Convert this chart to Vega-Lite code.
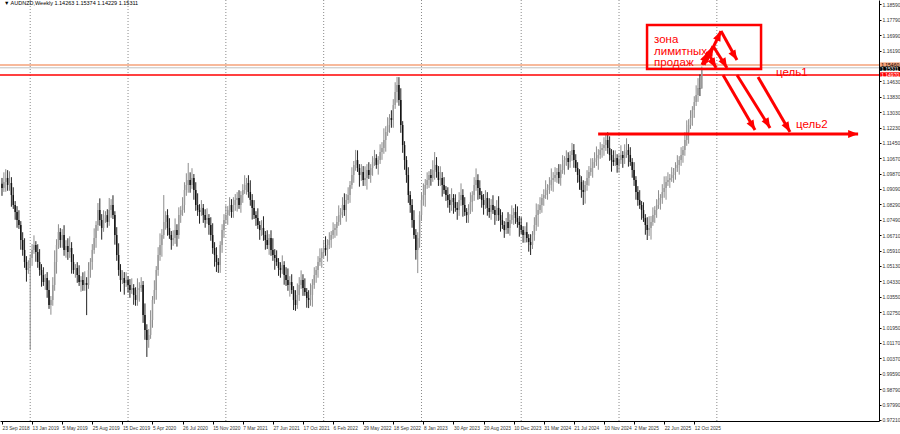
{
"$schema":"https://vega.github.io/schema/vega-lite/v6.json",
"width":879,"height":421,"autosize":"none",
"padding":{"left":0,"top":0,"right":21,"bottom":13},
"background":"white",
"config":{"view":{"stroke":null},"font":"Liberation Sans",
 "axis":{"labelOverlap":false,"labelBound":false,"labelFlush":false,"grid":false,"domainColor":"#000","tickColor":"#000","labelColor":"#333","tickCount":200},
 "axisX":{"labelOverlap":false,"labelAlign":"left","labelBaseline":"top","labelPadding":1,"labelFontSize":4.8,"tickSize":3},
 "axisY":{"labelOverlap":false,"labelFontSize":5,"labelPadding":1,"tickSize":2}},
"datasets":{
"candles":[
{"w":0,"o":1.0935,"h":1.0965,"l":1.0873,"c":1.0913},{"w":1,"o":1.0913,"h":1.0994,"l":1.0893,"c":1.0944},{"w":2,"o":1.0944,"h":1.1010,"l":1.0894,"c":1.0965},{"w":3,"o":1.0965,"h":1.1005,"l":1.0899,"c":1.0929},{"w":4,"o":1.0929,"h":1.0999,"l":1.0899,"c":1.0939},{"w":5,"o":1.0939,"h":1.0969,"l":1.0817,"c":1.0877},{"w":6,"o":1.0877,"h":1.0917,"l":1.0806,"c":1.0826},{"w":7,"o":1.0826,"h":1.0846,"l":1.0750,"c":1.0790},{"w":8,"o":1.0790,"h":1.0820,"l":1.0709,"c":1.0749},{"w":9,"o":1.0749,"h":1.0799,"l":1.0703,"c":1.0723},
{"w":10,"o":1.0723,"h":1.0743,"l":1.0596,"c":1.0646},{"w":11,"o":1.0646,"h":1.0686,"l":1.0565,"c":1.0595},{"w":12,"o":1.0595,"h":1.0655,"l":1.0503,"c":1.0533},{"w":13,"o":1.0533,"h":1.0563,"l":1.0432,"c":1.0492},{"w":14,"o":1.0492,"h":1.0542,"l":1.0472,"c":1.0502},{"w":15,"o":1.0502,"h":1.0573,"l":1.0081,"c":1.0553},{"w":16,"o":1.0553,"h":1.0625,"l":1.0513,"c":1.0595},{"w":17,"o":1.0595,"h":1.0670,"l":1.0575,"c":1.0620},{"w":18,"o":1.0620,"h":1.0640,"l":1.0534,"c":1.0584},{"w":19,"o":1.0584,"h":1.0624,"l":1.0503,"c":1.0533},
{"w":20,"o":1.0533,"h":1.0599,"l":1.0462,"c":1.0492},{"w":21,"o":1.0492,"h":1.0522,"l":1.0406,"c":1.0466},{"w":22,"o":1.0466,"h":1.0506,"l":1.0410,"c":1.0430},{"w":23,"o":1.0430,"h":1.0471,"l":1.0390,"c":1.0451},{"w":24,"o":1.0451,"h":1.0481,"l":1.0349,"c":1.0389},{"w":25,"o":1.0389,"h":1.0439,"l":1.0292,"c":1.0312},{"w":26,"o":1.0312,"h":1.0358,"l":1.0262,"c":1.0338},{"w":27,"o":1.0338,"h":1.0455,"l":1.0308,"c":1.0415},{"w":28,"o":1.0415,"h":1.0593,"l":1.0385,"c":1.0533},{"w":29,"o":1.0533,"h":1.0650,"l":1.0473,"c":1.0620},
{"w":30,"o":1.0620,"h":1.0727,"l":1.0600,"c":1.0687},{"w":31,"o":1.0687,"h":1.0707,"l":1.0606,"c":1.0646},{"w":32,"o":1.0646,"h":1.0702,"l":1.0606,"c":1.0672},{"w":33,"o":1.0672,"h":1.0722,"l":1.0565,"c":1.0595},{"w":34,"o":1.0595,"h":1.0645,"l":1.0555,"c":1.0615},{"w":35,"o":1.0615,"h":1.0655,"l":1.0544,"c":1.0584},{"w":36,"o":1.0584,"h":1.0665,"l":1.0554,"c":1.0605},{"w":37,"o":1.0605,"h":1.0635,"l":1.0473,"c":1.0533},{"w":38,"o":1.0533,"h":1.0573,"l":1.0472,"c":1.0492},{"w":39,"o":1.0492,"h":1.0522,"l":1.0452,"c":1.0502},
{"w":40,"o":1.0502,"h":1.0532,"l":1.0426,"c":1.0466},{"w":41,"o":1.0466,"h":1.0516,"l":1.0410,"c":1.0430},{"w":42,"o":1.0430,"h":1.0460,"l":1.0380,"c":1.0440},{"w":43,"o":1.0440,"h":1.0480,"l":1.0385,"c":1.0415},{"w":44,"o":1.0415,"h":1.0485,"l":1.0385,"c":1.0425},{"w":45,"o":1.0425,"h":1.0455,"l":1.0260,"c":1.0415},{"w":46,"o":1.0415,"h":1.0532,"l":1.0395,"c":1.0492},{"w":47,"o":1.0492,"h":1.0553,"l":1.0452,"c":1.0533},{"w":48,"o":1.0533,"h":1.0625,"l":1.0493,"c":1.0595},{"w":49,"o":1.0595,"h":1.0706,"l":1.0575,"c":1.0656},
{"w":50,"o":1.0656,"h":1.0743,"l":1.0606,"c":1.0723},{"w":51,"o":1.0723,"h":1.0836,"l":1.0693,"c":1.0800},{"w":52,"o":1.0800,"h":1.0860,"l":1.0719,"c":1.0749},{"w":53,"o":1.0749,"h":1.0779,"l":1.0648,"c":1.0708},{"w":54,"o":1.0708,"h":1.0799,"l":1.0688,"c":1.0759},{"w":55,"o":1.0759,"h":1.0794,"l":1.0734,"c":1.0774},{"w":56,"o":1.0774,"h":1.0804,"l":1.0709,"c":1.0739},{"w":57,"o":1.0739,"h":1.0862,"l":1.0719,"c":1.0800},{"w":58,"o":1.0800,"h":1.0856,"l":1.0760,"c":1.0826},{"w":59,"o":1.0826,"h":1.0876,"l":1.0754,"c":1.0774},
{"w":60,"o":1.0774,"h":1.0794,"l":1.0622,"c":1.0672},{"w":61,"o":1.0672,"h":1.0712,"l":1.0539,"c":1.0569},{"w":62,"o":1.0569,"h":1.0629,"l":1.0462,"c":1.0492},{"w":63,"o":1.0492,"h":1.0522,"l":1.0380,"c":1.0440},{"w":64,"o":1.0440,"h":1.0491,"l":1.0420,"c":1.0451},{"w":65,"o":1.0451,"h":1.0481,"l":1.0365,"c":1.0425},{"w":66,"o":1.0425,"h":1.0480,"l":1.0405,"c":1.0440},{"w":67,"o":1.0440,"h":1.0460,"l":1.0375,"c":1.0415},{"w":68,"o":1.0415,"h":1.0445,"l":1.0349,"c":1.0389},{"w":69,"o":1.0389,"h":1.0449,"l":1.0369,"c":1.0399},
{"w":70,"o":1.0399,"h":1.0419,"l":1.0313,"c":1.0363},{"w":71,"o":1.0363,"h":1.0403,"l":1.0308,"c":1.0338},{"w":72,"o":1.0338,"h":1.0449,"l":1.0308,"c":1.0389},{"w":73,"o":1.0389,"h":1.0429,"l":1.0329,"c":1.0399},{"w":74,"o":1.0399,"h":1.0455,"l":1.0379,"c":1.0415},{"w":75,"o":1.0415,"h":1.0435,"l":1.0220,"c":1.0260},{"w":76,"o":1.0260,"h":1.0320,"l":1.0133,"c":1.0183},{"w":77,"o":1.0183,"h":1.0213,"l":1.0045,"c":1.0132},{"w":78,"o":1.0132,"h":1.0188,"l":1.0092,"c":1.0158},{"w":79,"o":1.0158,"h":1.0285,"l":1.0138,"c":1.0235},
{"w":80,"o":1.0235,"h":1.0358,"l":1.0195,"c":1.0338},{"w":81,"o":1.0338,"h":1.0439,"l":1.0318,"c":1.0389},{"w":82,"o":1.0389,"h":1.0512,"l":1.0339,"c":1.0492},{"w":83,"o":1.0492,"h":1.0609,"l":1.0462,"c":1.0569},{"w":84,"o":1.0569,"h":1.0680,"l":1.0539,"c":1.0620},{"w":85,"o":1.0620,"h":1.0702,"l":1.0560,"c":1.0672},{"w":86,"o":1.0672,"h":1.0877,"l":1.0652,"c":1.0739},{"w":87,"o":1.0739,"h":1.0794,"l":1.0699,"c":1.0774},{"w":88,"o":1.0774,"h":1.0804,"l":1.0668,"c":1.0708},{"w":89,"o":1.0708,"h":1.0758,"l":1.0652,"c":1.0672},
{"w":90,"o":1.0672,"h":1.0692,"l":1.0596,"c":1.0646},{"w":91,"o":1.0646,"h":1.0696,"l":1.0616,"c":1.0656},{"w":92,"o":1.0656,"h":1.0757,"l":1.0626,"c":1.0697},{"w":93,"o":1.0697,"h":1.0727,"l":1.0612,"c":1.0672},{"w":94,"o":1.0672,"h":1.0814,"l":1.0652,"c":1.0774},{"w":95,"o":1.0774,"h":1.0820,"l":1.0734,"c":1.0800},{"w":96,"o":1.0800,"h":1.0866,"l":1.0770,"c":1.0826},{"w":97,"o":1.0826,"h":1.0943,"l":1.0786,"c":1.0903},{"w":98,"o":1.0903,"h":1.0989,"l":1.0873,"c":1.0929},{"w":99,"o":1.0929,"h":1.1042,"l":1.0889,"c":1.0954},
{"w":100,"o":1.0954,"h":1.0994,"l":1.0889,"c":1.0929},{"w":101,"o":1.0929,"h":1.1015,"l":1.0909,"c":1.0965},{"w":102,"o":1.0965,"h":1.0985,"l":1.0853,"c":1.0903},{"w":103,"o":1.0903,"h":1.0943,"l":1.0796,"c":1.0826},{"w":104,"o":1.0826,"h":1.0886,"l":1.0770,"c":1.0800},{"w":105,"o":1.0800,"h":1.0830,"l":1.0730,"c":1.0790},{"w":106,"o":1.0790,"h":1.0851,"l":1.0770,"c":1.0811},{"w":107,"o":1.0811,"h":1.0831,"l":1.0734,"c":1.0774},{"w":108,"o":1.0774,"h":1.0804,"l":1.0709,"c":1.0749},{"w":109,"o":1.0749,"h":1.0809,"l":1.0729,"c":1.0759},
{"w":110,"o":1.0759,"h":1.0779,"l":1.0673,"c":1.0723},{"w":111,"o":1.0723,"h":1.0763,"l":1.0642,"c":1.0672},{"w":112,"o":1.0672,"h":1.0732,"l":1.0575,"c":1.0605},{"w":113,"o":1.0605,"h":1.0635,"l":1.0509,"c":1.0569},{"w":114,"o":1.0569,"h":1.0609,"l":1.0482,"c":1.0533},{"w":115,"o":1.0533,"h":1.0553,"l":1.0477,"c":1.0517},{"w":116,"o":1.0517,"h":1.0640,"l":1.0477,"c":1.0620},{"w":117,"o":1.0620,"h":1.0727,"l":1.0580,"c":1.0697},{"w":118,"o":1.0697,"h":1.0779,"l":1.0657,"c":1.0749},{"w":119,"o":1.0749,"h":1.0824,"l":1.0729,"c":1.0774},
{"w":120,"o":1.0774,"h":1.0820,"l":1.0724,"c":1.0800},{"w":121,"o":1.0800,"h":1.0866,"l":1.0770,"c":1.0826},{"w":122,"o":1.0826,"h":1.0856,"l":1.0760,"c":1.0790},{"w":123,"o":1.0790,"h":1.0866,"l":1.0760,"c":1.0826},{"w":124,"o":1.0826,"h":1.0882,"l":1.0796,"c":1.0852},{"w":125,"o":1.0852,"h":1.0892,"l":1.0792,"c":1.0862},{"w":126,"o":1.0862,"h":1.0902,"l":1.0806,"c":1.0826},{"w":127,"o":1.0826,"h":1.0897,"l":1.0786,"c":1.0877},{"w":128,"o":1.0877,"h":1.0933,"l":1.0837,"c":1.0903},{"w":129,"o":1.0903,"h":1.0979,"l":1.0883,"c":1.0929},
{"w":130,"o":1.0929,"h":1.0965,"l":1.0879,"c":1.0939},{"w":131,"o":1.0939,"h":1.0979,"l":1.0863,"c":1.0893},{"w":132,"o":1.0893,"h":1.0953,"l":1.0822,"c":1.0852},{"w":133,"o":1.0852,"h":1.0882,"l":1.0751,"c":1.0811},{"w":134,"o":1.0811,"h":1.0851,"l":1.0754,"c":1.0774},{"w":135,"o":1.0774,"h":1.0794,"l":1.0719,"c":1.0759},{"w":136,"o":1.0759,"h":1.0809,"l":1.0703,"c":1.0723},{"w":137,"o":1.0723,"h":1.0743,"l":1.0647,"c":1.0697},{"w":138,"o":1.0697,"h":1.0748,"l":1.0667,"c":1.0708},{"w":139,"o":1.0708,"h":1.0768,"l":1.0642,"c":1.0672},
{"w":140,"o":1.0672,"h":1.0692,"l":1.0596,"c":1.0646},{"w":141,"o":1.0646,"h":1.0696,"l":1.0600,"c":1.0620},{"w":142,"o":1.0620,"h":1.0676,"l":1.0570,"c":1.0656},{"w":143,"o":1.0656,"h":1.0696,"l":1.0565,"c":1.0595},{"w":144,"o":1.0595,"h":1.0655,"l":1.0539,"c":1.0569},{"w":145,"o":1.0569,"h":1.0599,"l":1.0493,"c":1.0553},{"w":146,"o":1.0553,"h":1.0593,"l":1.0513,"c":1.0533},{"w":147,"o":1.0533,"h":1.0553,"l":1.0462,"c":1.0502},{"w":148,"o":1.0502,"h":1.0532,"l":1.0452,"c":1.0492},{"w":149,"o":1.0492,"h":1.0567,"l":1.0472,"c":1.0517},
{"w":150,"o":1.0517,"h":1.0537,"l":1.0416,"c":1.0466},{"w":151,"o":1.0466,"h":1.0506,"l":1.0410,"c":1.0440},{"w":152,"o":1.0440,"h":1.0500,"l":1.0385,"c":1.0415},{"w":153,"o":1.0415,"h":1.0460,"l":1.0355,"c":1.0430},{"w":154,"o":1.0430,"h":1.0470,"l":1.0369,"c":1.0389},{"w":155,"o":1.0389,"h":1.0409,"l":1.0286,"c":1.0338},{"w":156,"o":1.0338,"h":1.0388,"l":1.0282,"c":1.0312},{"w":157,"o":1.0312,"h":1.0423,"l":1.0292,"c":1.0363},{"w":158,"o":1.0363,"h":1.0455,"l":1.0333,"c":1.0415},{"w":159,"o":1.0415,"h":1.0490,"l":1.0395,"c":1.0440},
{"w":160,"o":1.0440,"h":1.0470,"l":1.0359,"c":1.0399},{"w":161,"o":1.0399,"h":1.0449,"l":1.0359,"c":1.0379},{"w":162,"o":1.0379,"h":1.0399,"l":1.0298,"c":1.0348},{"w":163,"o":1.0348,"h":1.0388,"l":1.0296,"c":1.0338},{"w":164,"o":1.0338,"h":1.0423,"l":1.0308,"c":1.0363},{"w":165,"o":1.0363,"h":1.0445,"l":1.0303,"c":1.0415},{"w":166,"o":1.0415,"h":1.0506,"l":1.0395,"c":1.0466},{"w":167,"o":1.0466,"h":1.0512,"l":1.0426,"c":1.0492},{"w":168,"o":1.0492,"h":1.0563,"l":1.0452,"c":1.0533},{"w":169,"o":1.0533,"h":1.0603,"l":1.0513,"c":1.0553},
{"w":170,"o":1.0553,"h":1.0604,"l":1.0503,"c":1.0584},{"w":171,"o":1.0584,"h":1.0645,"l":1.0554,"c":1.0605},{"w":172,"o":1.0605,"h":1.0665,"l":1.0565,"c":1.0595},{"w":173,"o":1.0595,"h":1.0650,"l":1.0535,"c":1.0620},{"w":174,"o":1.0620,"h":1.0686,"l":1.0600,"c":1.0646},{"w":175,"o":1.0646,"h":1.0692,"l":1.0606,"c":1.0672},{"w":176,"o":1.0672,"h":1.0737,"l":1.0652,"c":1.0697},{"w":177,"o":1.0697,"h":1.0728,"l":1.0657,"c":1.0708},{"w":178,"o":1.0708,"h":1.0769,"l":1.0668,"c":1.0739},{"w":179,"o":1.0739,"h":1.0824,"l":1.0719,"c":1.0774},
{"w":180,"o":1.0774,"h":1.0810,"l":1.0724,"c":1.0790},{"w":181,"o":1.0790,"h":1.0866,"l":1.0760,"c":1.0826},{"w":182,"o":1.0826,"h":1.0886,"l":1.0770,"c":1.0800},{"w":183,"o":1.0800,"h":1.0882,"l":1.0740,"c":1.0852},{"w":184,"o":1.0852,"h":1.0917,"l":1.0832,"c":1.0877},{"w":185,"o":1.0877,"h":1.0949,"l":1.0837,"c":1.0929},{"w":186,"o":1.0929,"h":1.1020,"l":1.0909,"c":1.0980},{"w":187,"o":1.0980,"h":1.1052,"l":1.0940,"c":1.1032},{"w":188,"o":1.1032,"h":1.1109,"l":1.1002,"c":1.1057},{"w":189,"o":1.1057,"h":1.1107,"l":1.0996,"c":1.1016},
{"w":190,"o":1.1016,"h":1.1036,"l":1.0920,"c":1.0980},{"w":191,"o":1.0980,"h":1.1036,"l":1.0950,"c":1.0996},{"w":192,"o":1.0996,"h":1.1026,"l":1.0924,"c":1.0954},{"w":193,"o":1.0954,"h":1.1025,"l":1.0924,"c":1.0965},{"w":194,"o":1.0965,"h":1.1036,"l":1.0905,"c":1.1006},{"w":195,"o":1.1006,"h":1.1046,"l":1.0960,"c":1.0980},{"w":196,"o":1.0980,"h":1.1036,"l":1.0940,"c":1.1016},{"w":197,"o":1.1016,"h":1.1077,"l":1.0976,"c":1.1047},{"w":198,"o":1.1047,"h":1.1109,"l":1.1027,"c":1.1067},{"w":199,"o":1.1067,"h":1.1087,"l":1.1012,"c":1.1032},
{"w":200,"o":1.1032,"h":1.1077,"l":1.0982,"c":1.1057},{"w":201,"o":1.1057,"h":1.1138,"l":1.1037,"c":1.1098},{"w":202,"o":1.1098,"h":1.1149,"l":1.1058,"c":1.1119},{"w":203,"o":1.1119,"h":1.1220,"l":1.1089,"c":1.1160},{"w":204,"o":1.1160,"h":1.1231,"l":1.1100,"c":1.1201},{"w":205,"o":1.1201,"h":1.1277,"l":1.1181,"c":1.1237},{"w":206,"o":1.1237,"h":1.1293,"l":1.1197,"c":1.1273},{"w":207,"o":1.1273,"h":1.1313,"l":1.1223,"c":1.1263},{"w":208,"o":1.1263,"h":1.1370,"l":1.1223,"c":1.1340},{"w":209,"o":1.1340,"h":1.1457,"l":1.1320,"c":1.1407},
{"w":210,"o":1.1407,"h":1.1484,"l":1.1352,"c":1.1443},{"w":211,"o":1.1443,"h":1.1483,"l":1.1336,"c":1.1366},{"w":212,"o":1.1366,"h":1.1426,"l":1.1197,"c":1.1237},{"w":213,"o":1.1237,"h":1.1257,"l":1.1094,"c":1.1134},{"w":214,"o":1.1134,"h":1.1154,"l":1.1007,"c":1.1057},{"w":215,"o":1.1057,"h":1.1077,"l":1.0940,"c":1.0980},{"w":216,"o":1.0980,"h":1.1020,"l":1.0837,"c":1.0877},{"w":217,"o":1.0877,"h":1.0897,"l":1.0786,"c":1.0826},{"w":218,"o":1.0826,"h":1.0856,"l":1.0709,"c":1.0749},{"w":219,"o":1.0749,"h":1.0799,"l":1.0652,"c":1.0672},
{"w":220,"o":1.0672,"h":1.0702,"l":1.0545,"c":1.0595},{"w":221,"o":1.0595,"h":1.0686,"l":1.0476,"c":1.0656},{"w":222,"o":1.0656,"h":1.0794,"l":1.0606,"c":1.0774},{"w":223,"o":1.0774,"h":1.0892,"l":1.0744,"c":1.0852},{"w":224,"o":1.0852,"h":1.0937,"l":1.0822,"c":1.0877},{"w":225,"o":1.0877,"h":1.0959,"l":1.0817,"c":1.0929},{"w":226,"o":1.0929,"h":1.0994,"l":1.0909,"c":1.0954},{"w":227,"o":1.0954,"h":1.1000,"l":1.0914,"c":1.0980},{"w":228,"o":1.0980,"h":1.1010,"l":1.0925,"c":1.0965},{"w":229,"o":1.0965,"h":1.1056,"l":1.0945,"c":1.1006},
{"w":230,"o":1.1006,"h":1.1098,"l":1.0956,"c":1.1032},{"w":231,"o":1.1032,"h":1.1072,"l":1.0966,"c":1.0996},{"w":232,"o":1.0996,"h":1.1026,"l":1.0924,"c":1.0954},{"w":233,"o":1.0954,"h":1.1025,"l":1.0924,"c":1.0965},{"w":234,"o":1.0965,"h":1.0995,"l":1.0869,"c":1.0929},{"w":235,"o":1.0929,"h":1.0969,"l":1.0883,"c":1.0903},{"w":236,"o":1.0903,"h":1.0923,"l":1.0847,"c":1.0877},{"w":237,"o":1.0877,"h":1.0917,"l":1.0812,"c":1.0852},{"w":238,"o":1.0852,"h":1.0882,"l":1.0786,"c":1.0826},{"w":239,"o":1.0826,"h":1.0912,"l":1.0796,"c":1.0862},
{"w":240,"o":1.0862,"h":1.0882,"l":1.0781,"c":1.0841},{"w":241,"o":1.0841,"h":1.0881,"l":1.0791,"c":1.0811},{"w":242,"o":1.0811,"h":1.0841,"l":1.0750,"c":1.0800},{"w":243,"o":1.0800,"h":1.0892,"l":1.0770,"c":1.0852},{"w":244,"o":1.0852,"h":1.0937,"l":1.0822,"c":1.0877},{"w":245,"o":1.0877,"h":1.0907,"l":1.0766,"c":1.0826},{"w":246,"o":1.0826,"h":1.0866,"l":1.0770,"c":1.0790},{"w":247,"o":1.0790,"h":1.0810,"l":1.0734,"c":1.0774},{"w":248,"o":1.0774,"h":1.0830,"l":1.0734,"c":1.0800},{"w":249,"o":1.0800,"h":1.0891,"l":1.0780,"c":1.0841},
{"w":250,"o":1.0841,"h":1.0897,"l":1.0791,"c":1.0877},{"w":251,"o":1.0877,"h":1.0969,"l":1.0847,"c":1.0929},{"w":252,"o":1.0929,"h":1.1014,"l":1.0899,"c":1.0954},{"w":253,"o":1.0954,"h":1.0984,"l":1.0853,"c":1.0913},{"w":254,"o":1.0913,"h":1.0953,"l":1.0857,"c":1.0877},{"w":255,"o":1.0877,"h":1.0897,"l":1.0812,"c":1.0852},{"w":256,"o":1.0852,"h":1.0882,"l":1.0776,"c":1.0826},{"w":257,"o":1.0826,"h":1.0902,"l":1.0806,"c":1.0862},{"w":258,"o":1.0862,"h":1.0892,"l":1.0771,"c":1.0811},{"w":259,"o":1.0811,"h":1.0861,"l":1.0760,"c":1.0790},
{"w":260,"o":1.0790,"h":1.0856,"l":1.0750,"c":1.0826},{"w":261,"o":1.0826,"h":1.0876,"l":1.0780,"c":1.0800},{"w":262,"o":1.0800,"h":1.0820,"l":1.0724,"c":1.0774},{"w":263,"o":1.0774,"h":1.0851,"l":1.0744,"c":1.0811},{"w":264,"o":1.0811,"h":1.0871,"l":1.0744,"c":1.0774},{"w":265,"o":1.0774,"h":1.0804,"l":1.0689,"c":1.0749},{"w":266,"o":1.0749,"h":1.0789,"l":1.0703,"c":1.0723},{"w":267,"o":1.0723,"h":1.0743,"l":1.0657,"c":1.0697},{"w":268,"o":1.0697,"h":1.0759,"l":1.0677,"c":1.0739},{"w":269,"o":1.0739,"h":1.0789,"l":1.0678,"c":1.0708},
{"w":270,"o":1.0708,"h":1.0779,"l":1.0668,"c":1.0749},{"w":271,"o":1.0749,"h":1.0824,"l":1.0729,"c":1.0774},{"w":272,"o":1.0774,"h":1.0810,"l":1.0724,"c":1.0790},{"w":273,"o":1.0790,"h":1.0830,"l":1.0729,"c":1.0759},{"w":274,"o":1.0759,"h":1.0819,"l":1.0709,"c":1.0739},{"w":275,"o":1.0739,"h":1.0769,"l":1.0663,"c":1.0723},{"w":276,"o":1.0723,"h":1.0763,"l":1.0677,"c":1.0697},{"w":277,"o":1.0697,"h":1.0717,"l":1.0632,"c":1.0672},{"w":278,"o":1.0672,"h":1.0717,"l":1.0632,"c":1.0687},{"w":279,"o":1.0687,"h":1.0737,"l":1.0634,"c":1.0656},
{"w":280,"o":1.0656,"h":1.0676,"l":1.0586,"c":1.0636},{"w":281,"o":1.0636,"h":1.0676,"l":1.0569,"c":1.0620},{"w":282,"o":1.0620,"h":1.0692,"l":1.0600,"c":1.0672},{"w":283,"o":1.0672,"h":1.0763,"l":1.0642,"c":1.0723},{"w":284,"o":1.0723,"h":1.0834,"l":1.0693,"c":1.0774},{"w":285,"o":1.0774,"h":1.0830,"l":1.0714,"c":1.0800},{"w":286,"o":1.0800,"h":1.0866,"l":1.0780,"c":1.0826},{"w":287,"o":1.0826,"h":1.0882,"l":1.0786,"c":1.0862},{"w":288,"o":1.0862,"h":1.0907,"l":1.0822,"c":1.0877},{"w":289,"o":1.0877,"h":1.0953,"l":1.0857,"c":1.0903},
{"w":290,"o":1.0903,"h":1.0933,"l":1.0853,"c":1.0913},{"w":291,"o":1.0913,"h":1.0969,"l":1.0883,"c":1.0929},{"w":292,"o":1.0929,"h":1.1014,"l":1.0899,"c":1.0954},{"w":293,"o":1.0954,"h":1.0995,"l":1.0894,"c":1.0965},{"w":294,"o":1.0965,"h":1.1020,"l":1.0945,"c":1.0980},{"w":295,"o":1.0980,"h":1.1016,"l":1.0940,"c":1.0996},{"w":296,"o":1.0996,"h":1.1036,"l":1.0935,"c":1.0965},{"w":297,"o":1.0965,"h":1.1036,"l":1.0925,"c":1.1006},{"w":298,"o":1.1006,"h":1.1082,"l":1.0986,"c":1.1032},{"w":299,"o":1.1032,"h":1.1077,"l":1.0982,"c":1.1057},
{"w":300,"o":1.1057,"h":1.1107,"l":1.1027,"c":1.1067},{"w":301,"o":1.1067,"h":1.1097,"l":1.1007,"c":1.1047},{"w":302,"o":1.1047,"h":1.1103,"l":1.1017,"c":1.1083},{"w":303,"o":1.1083,"h":1.1145,"l":1.1053,"c":1.1109},{"w":304,"o":1.1109,"h":1.1139,"l":1.1017,"c":1.1057},{"w":305,"o":1.1057,"h":1.1087,"l":1.0996,"c":1.1016},{"w":306,"o":1.1016,"h":1.1046,"l":1.0940,"c":1.0980},{"w":307,"o":1.0980,"h":1.1010,"l":1.0904,"c":1.0944},{"w":308,"o":1.0944,"h":1.0974,"l":1.0863,"c":1.0903},{"w":309,"o":1.0903,"h":1.0953,"l":1.0826,"c":1.0893},
{"w":310,"o":1.0893,"h":1.0949,"l":1.0833,"c":1.0929},{"w":311,"o":1.0929,"h":1.1005,"l":1.0899,"c":1.0965},{"w":312,"o":1.0965,"h":1.1026,"l":1.0925,"c":1.0996},{"w":313,"o":1.0996,"h":1.1066,"l":1.0976,"c":1.1016},{"w":314,"o":1.1016,"h":1.1067,"l":1.0966,"c":1.1047},{"w":315,"o":1.1047,"h":1.1097,"l":1.1017,"c":1.1057},{"w":316,"o":1.1057,"h":1.1127,"l":1.1027,"c":1.1067},{"w":317,"o":1.1067,"h":1.1113,"l":1.1007,"c":1.1083},{"w":318,"o":1.1083,"h":1.1149,"l":1.1063,"c":1.1109},{"w":319,"o":1.1109,"h":1.1139,"l":1.1069,"c":1.1119},
{"w":320,"o":1.1119,"h":1.1174,"l":1.1079,"c":1.1134},{"w":321,"o":1.1134,"h":1.1196,"l":1.1104,"c":1.1160},{"w":322,"o":1.1160,"h":1.1200,"l":1.1089,"c":1.1119},{"w":323,"o":1.1119,"h":1.1179,"l":1.1053,"c":1.1083},{"w":324,"o":1.1083,"h":1.1113,"l":1.0997,"c":1.1057},{"w":325,"o":1.1057,"h":1.1107,"l":1.1027,"c":1.1047},{"w":326,"o":1.1047,"h":1.1107,"l":1.1027,"c":1.1067},{"w":327,"o":1.1067,"h":1.1087,"l":1.0992,"c":1.1032},{"w":328,"o":1.1032,"h":1.1087,"l":1.0992,"c":1.1057},{"w":329,"o":1.1057,"h":1.1133,"l":1.1037,"c":1.1083},
{"w":330,"o":1.1083,"h":1.1103,"l":1.1017,"c":1.1067},{"w":331,"o":1.1067,"h":1.1138,"l":1.1037,"c":1.1098},{"w":332,"o":1.1098,"h":1.1169,"l":1.1068,"c":1.1109},{"w":333,"o":1.1109,"h":1.1139,"l":1.1023,"c":1.1083},{"w":334,"o":1.1083,"h":1.1123,"l":1.1027,"c":1.1047},{"w":335,"o":1.1047,"h":1.1067,"l":1.0966,"c":1.1006},{"w":336,"o":1.1006,"h":1.1046,"l":1.0924,"c":1.0954},{"w":337,"o":1.0954,"h":1.0974,"l":1.0853,"c":1.0893},{"w":338,"o":1.0893,"h":1.0923,"l":1.0822,"c":1.0852},{"w":339,"o":1.0852,"h":1.0902,"l":1.0806,"c":1.0826},
{"w":340,"o":1.0826,"h":1.0846,"l":1.0750,"c":1.0800},{"w":341,"o":1.0800,"h":1.0840,"l":1.0739,"c":1.0759},{"w":342,"o":1.0759,"h":1.0779,"l":1.0673,"c":1.0723},{"w":343,"o":1.0723,"h":1.0763,"l":1.0646,"c":1.0697},{"w":344,"o":1.0697,"h":1.0768,"l":1.0667,"c":1.0708},{"w":345,"o":1.0708,"h":1.0769,"l":1.0648,"c":1.0739},{"w":346,"o":1.0739,"h":1.0814,"l":1.0719,"c":1.0774},{"w":347,"o":1.0774,"h":1.0820,"l":1.0734,"c":1.0800},{"w":348,"o":1.0800,"h":1.0856,"l":1.0760,"c":1.0826},{"w":349,"o":1.0826,"h":1.0902,"l":1.0806,"c":1.0852},
{"w":350,"o":1.0852,"h":1.0882,"l":1.0802,"c":1.0862},{"w":351,"o":1.0862,"h":1.0933,"l":1.0832,"c":1.0893},{"w":352,"o":1.0893,"h":1.0973,"l":1.0863,"c":1.0913},{"w":353,"o":1.0913,"h":1.0974,"l":1.0853,"c":1.0944},{"w":354,"o":1.0944,"h":1.0994,"l":1.0924,"c":1.0954},{"w":355,"o":1.0954,"h":1.0985,"l":1.0914,"c":1.0965},{"w":356,"o":1.0965,"h":1.1020,"l":1.0945,"c":1.0980},{"w":357,"o":1.0980,"h":1.1016,"l":1.0940,"c":1.0996},{"w":358,"o":1.0996,"h":1.1046,"l":1.0956,"c":1.1016},{"w":359,"o":1.1016,"h":1.1082,"l":1.0996,"c":1.1032},
{"w":360,"o":1.1032,"h":1.1077,"l":1.0982,"c":1.1057},{"w":361,"o":1.1057,"h":1.1123,"l":1.1027,"c":1.1083},{"w":362,"o":1.1083,"h":1.1129,"l":1.1043,"c":1.1109},{"w":363,"o":1.1109,"h":1.1200,"l":1.1079,"c":1.1160},{"w":364,"o":1.1160,"h":1.1261,"l":1.1130,"c":1.1201},{"w":365,"o":1.1201,"h":1.1267,"l":1.1141,"c":1.1237},{"w":366,"o":1.1237,"h":1.1313,"l":1.1217,"c":1.1273},{"w":367,"o":1.1273,"h":1.1334,"l":1.1233,"c":1.1314},{"w":368,"o":1.1314,"h":1.1385,"l":1.1274,"c":1.1355},{"w":369,"o":1.1355,"h":1.1441,"l":1.1335,"c":1.1391},
{"w":370,"o":1.1391,"h":1.1478,"l":1.1356,"c":1.1427},{"w":371,"o":1.1427,"h":1.1497,"l":1.1386,"c":1.1426},{"w":372,"o":1.14263,"h":1.15374,"l":1.14229,"c":1.15311}
],
"years":[{"w":15},{"w":67},{"w":119},{"w":171},{"w":223},{"w":276},{"w":328},{"w":380}],
"levels":[{"k":"orange","p":1.1546},{"k":"bid","p":1.15311},{"k":"red","p":1.1494}],
"boxes":[{"k":"orange","top":1.1559,"bot":1.1537,"lab":"1.15460"},{"k":"bid","top":1.1537,"bot":1.1515,"lab":"1.15311"},{"k":"red","top":1.1508,"bot":1.1486,"lab":"1.14970"}],
"zone":[{"w1":342.9,"w2":403.5,"p1":1.1751,"p2":1.1525}],
"segs":[
{"w1":372.1,"p1":1.1546,"w2":375.3,"p2":1.1612,"dir":"up"},
{"w1":375.3,"p1":1.1612,"w2":379.6,"p2":1.1530,"dir":"down"},
{"w1":373.2,"p1":1.1546,"w2":378.0,"p2":1.1643,"dir":"up"},
{"w1":378.0,"p1":1.1643,"w2":385.4,"p2":1.1530,"dir":"down"},
{"w1":374.3,"p1":1.1561,"w2":382.2,"p2":1.1720,"dir":"up"},
{"w1":382.2,"p1":1.1720,"w2":390.7,"p2":1.1571,"dir":"down"},
{"w1":383.3,"p1":1.1494,"w2":400.3,"p2":1.1211,"dir":"down"},
{"w1":390.7,"p1":1.1494,"w2":408.3,"p2":1.1222,"dir":"down"},
{"w1":401.9,"p1":1.1484,"w2":418.9,"p2":1.1201,"dir":"down"},
{"w1":316.9,"p1":1.1191,"w2":455.1,"p2":1.1191,"dir":"right"}],
"notes":[{"w":346.6,"p":1.1659,"t":"зона"},{"w":346.6,"p":1.1597,"t":"лимитных"},{"w":346.6,"p":1.1540,"t":"продаж"},{"w":411.5,"p":1.1490,"t":"цель1"},{"w":422.1,"p":1.1222,"t":"цель2"}]
},
"layer":[
{"data":{"name":"years"},"mark":{"type":"rule","color":"#8a8a8a","strokeWidth":1,"strokeDash":[1,2]},
 "encoding":{"x":{"field":"w","type":"quantitative","title":null,"scale":{"domain":[-1.06,466.2],"nice":false,"zero":false,"padding":0},
  "axis":{"orient":"bottom","values":[0,16,32,48,64,80,96,112,128,144,160,176,192,208,224,240,256,272,288,304,320,336,352,368],"tickCount":200,"labelExpr":"timeFormat(datetime(2018, 8, 23 + datum.value * 7), '%-d %b %Y')","labelOverlap":false,"title":null}}}},
{"data":{"name":"levels"},"mark":{"type":"rule"},
 "encoding":{"y":{"field":"p","type":"quantitative","title":null,"scale":{"domain":[0.97157,1.18796],"nice":false,"zero":false},
  "axis":{"orient":"right","values":[0.9721,0.9799,0.9879,0.9959,1.0037,1.0117,1.0195,1.0275,1.0355,1.0433,1.0513,1.0591,1.0671,1.0749,1.0829,1.0909,1.0987,1.1067,1.1145,1.1223,1.1303,1.1383,1.1463,1.1619,1.1699,1.1779,1.1859],"tickCount":200,"format":".5f","labelOverlap":false,"title":null}},
  "color":{"condition":[{"test":"datum.k=='orange'","value":"#f5a27a"},{"test":"datum.k=='red'","value":"#ff0000"}],"value":"#c0c0c0"},
  "strokeWidth":{"condition":{"test":"datum.k=='bid'","value":1},"value":1.5}}},
{"data":{"name":"candles"},"mark":{"type":"rule","strokeWidth":1},
 "encoding":{"x":{"field":"w","type":"quantitative","title":null,"scale":{"domain":[-1.06,466.2],"nice":false,"zero":false,"padding":0}},
  "y":{"field":"l","type":"quantitative","title":null,"scale":{"domain":[0.97157,1.18796],"nice":false,"zero":false}},
  "y2":{"field":"h"},
  "color":{"condition":{"test":"datum.c >= datum.o","value":"#8c8c8c"},"value":"#222222"}}},
{"data":{"name":"candles"},"mark":{"type":"bar","width":1.5},
 "encoding":{"x":{"field":"w","type":"quantitative","title":null,"scale":{"domain":[-1.06,466.2],"nice":false,"zero":false,"padding":0}},
  "y":{"field":"o","type":"quantitative","title":null,"scale":{"domain":[0.97157,1.18796],"nice":false,"zero":false}},
  "y2":{"field":"c"},
  "color":{"condition":{"test":"datum.c >= datum.o","value":"#9a9a9a"},"value":"#111111"}}},
{"data":{"name":"zone"},"mark":{"type":"rect","fillOpacity":0,"stroke":"#ff0000","strokeWidth":2.5},
 "encoding":{"x":{"field":"w1","type":"quantitative","title":null},"x2":{"field":"w2"},
  "y":{"field":"p1","type":"quantitative","title":null},"y2":{"field":"p2"}}},
{"data":{"name":"segs"},"mark":{"type":"rule","color":"#ff0000","strokeWidth":3},
 "encoding":{"x":{"field":"w1","type":"quantitative","title":null},"x2":{"field":"w2"},
  "y":{"field":"p1","type":"quantitative","title":null},"y2":{"field":"p2"}}},
{"data":{"name":"segs"},"mark":{"type":"point","filled":true,"color":"#ff0000","opacity":1,"size":100},
 "encoding":{"x":{"field":"w2","type":"quantitative","title":null},
  "y":{"field":"p2","type":"quantitative","title":null},
  "shape":{"field":"dir","type":"nominal","legend":null,"scale":{"domain":["up","down","right"],"range":["M0,0L-1.570,1.475L-0.120,2.151Z","M0,0L-0.307,-2.132L-1.693,-1.332Z","M0,0L-2,-0.8L-2,0.8Z"]}}}},
{"data":{"name":"notes"},"mark":{"type":"text","color":"#ff0000","fontSize":11.5,"align":"left","baseline":"alphabetic","font":"Liberation Sans"},
 "encoding":{"x":{"field":"w","type":"quantitative","title":null},"y":{"field":"p","type":"quantitative","title":null},"text":{"field":"t"}}},
{"data":{"name":"boxes"},"mark":{"type":"rect"},
 "encoding":{"x":{"datum":466.8},"x2":{"datum":477.6},
  "y":{"field":"top","type":"quantitative","title":null},"y2":{"field":"bot"},
  "color":{"condition":[{"test":"datum.k=='orange'","value":"#f5a27a"},{"test":"datum.k=='red'","value":"#ff0000"}],"value":"#000000"}}},
{"data":{"name":"boxes"},"mark":{"type":"text","fontSize":5,"align":"left","baseline":"top","dy":0.5,"dx":1},
 "encoding":{"x":{"datum":466.8},"y":{"field":"top","type":"quantitative","title":null},"text":{"field":"lab"},
  "color":{"condition":{"test":"datum.k=='orange'","value":"#000000"},"value":"#ffffff"}}},
{"data":{"values":[{"t":"▼ AUDNZD,Weekly  1.14263 1.15374 1.14229 1.15311"}]},"mark":{"type":"text","fontSize":5.5,"align":"left","baseline":"top","color":"#000"},
 "encoding":{"x":{"datum":1.0},"y":{"datum":1.1872},"text":{"field":"t"}}}
]
}
